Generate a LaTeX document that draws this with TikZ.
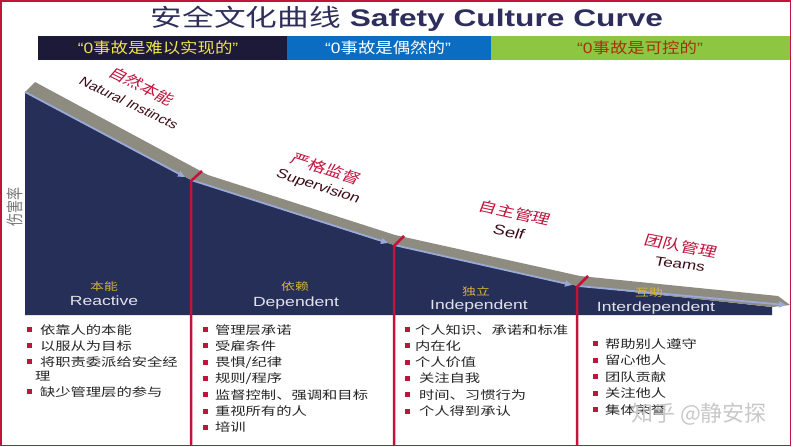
\documentclass[tikz,border=0pt]{standalone}
\usepackage{fontspec}
\setmainfont{Liberation Sans}
\newfontfamily\zh{Noto Sans CJK SC}
\newfontfamily\latin{Liberation Sans}
\usetikzlibrary{arrows.meta}
\definecolor{navy}{HTML}{252F58}
\definecolor{bandc}{HTML}{8E8C80}
\definecolor{edgec}{HTML}{9AAAD8}
\definecolor{crim}{HTML}{C0143C}
\definecolor{titlec}{HTML}{2E2E5C}
\definecolor{barA}{HTML}{1C1A38}
\definecolor{barB}{HTML}{0A6DC2}
\definecolor{barC}{HTML}{8DC641}
\definecolor{ylw}{HTML}{EEE44A}
\definecolor{rust}{HTML}{A8300F}
\definecolor{gold}{HTML}{D6B23A}
\definecolor{darklab}{HTML}{3C0D18}
\definecolor{lightlab}{HTML}{E2E2EA}
\definecolor{itemc}{HTML}{262626}
\definecolor{axisc}{HTML}{777777}
\definecolor{wmc}{HTML}{C8C8C8}
\tikzset{
  every node/.style={inner sep=0pt, outer sep=0pt},
  stretch/.style={xscale=1.32},
  ttl/.style={stretch, text=titlec, font=\fontsize{24}{28}\selectfont},
  bann/.style={xscale=1.16, font=\fontsize{15}{18}\selectfont\zh},
  rlab/.style={stretch, text=crim, font=\fontsize{14}{16}\selectfont\zh},
  elab/.style={stretch, text=darklab, font=\fontsize{13}{16}\selectfont},
  phz/.style={stretch, text=gold, font=\fontsize{10.5}{12}\selectfont\zh},
  phe/.style={stretch, text=lightlab, font=\fontsize{13.3}{16}\selectfont, anchor=base},
  item/.style={stretch, text=itemc, font=\fontsize{11.6}{14}\selectfont\zh, anchor=base west},
  bul/.style={fill=crim, minimum width=5pt, minimum height=5pt},
  divider/.style={draw=crim, line width=2.5pt},
  edgeline/.style={draw=edgec, line width=1.8pt, -{Triangle[length=7pt,width=6pt]}},
}
\begin{document}
\begin{tikzpicture}[x=1pt, y=-1pt]
\useasboundingbox (0,0) rectangle (793,447);
\fill[white] (0,0) rectangle (793,447);

% title
\node[ttl, anchor=base] (title) at (407,27) {{\zh 安全文化曲线} \textbf{Safety Culture Curve}};

% banner
\fill[barA] (38,36) rectangle (287,60);
\fill[barB] (287,36) rectangle (491,60);
\fill[barC] (491,36) rectangle (790,60);
\node[bann, text=ylw] (q1) at (158,48) {{\latin “0}事故是难以实现的{\latin ”}};
\node[bann, text=white] (q2) at (388,48) {{\latin “0}事故是偶然的{\latin ”}};
\node[bann, text=rust] (q3) at (640,48) {{\latin “0}事故是可控的{\latin ”}};

% curve geometry
\coordinate (P0) at (25,92);
\coordinate (P1) at (191,180);
\coordinate (P2) at (394,245);
\coordinate (P3) at (578,286);
\coordinate (P4) at (772,307);
\coordinate (U0) at (35,82);
\coordinate (U1) at (208,175);
\coordinate (U2) at (395,235);
\coordinate (U3) at (580,276);
\coordinate (U4) at (778,296);
\coordinate (T) at (790,305);

\fill[navy] (P0) -- (P1) -- (P2) -- (P3) -- (P4) -- (772,315) -- (25,315) -- cycle;
\fill[bandc] (P0) -- (U0) -- (U1) -- (U2) -- (U3) -- (U4) -- (T) -- (P4) -- (P3) -- (P2) -- (P1) -- cycle;
\draw[edgeline] (P0) -- (185,177);
\draw[edgeline] (P1) -- (388,243);
\draw[edgeline] (P2) -- (572,285);
\draw[edgeline] (P3) -- (786,305);

% dividers and frame
\draw[divider] (202,171) -- (191,181) -- (191,445);
\draw[divider] (404,236) -- (394,246) -- (394,445);
\draw[divider] (588,276) -- (577,287) -- (577,445);
\draw[crim, line width=1.5pt] (1,1) rectangle (790.5,445.5);

% axis label
\node[stretch, rotate=90, text=axisc, font=\fontsize{13}{15}\selectfont\zh] (axis) at (15,207) {伤害率};

% stage labels on curve
\node[rlab, rotate=-33] (s1z) at (142,86) {自然本能};
\node[elab, rotate=-32, font=\fontsize{12}{14}\selectfont] (s1e) at (129,103) {Natural Instincts};
\node[rlab, rotate=-23] (s2z) at (326,169) {严格监督};
\node[elab, rotate=-23] (s2e) at (318,187) {Supervision};
\node[rlab, rotate=-16] (s3z) at (515,213) {自主管理};
\node[elab, rotate=-15, font=\fontsize{14}{16}\selectfont] (s3e) at (509,232) {Self};
\node[rlab, rotate=-14] (s4z) at (681,246) {团队管理};
\node[elab, rotate=-10] (s4e) at (680,264) {Teams};

% phase labels
\node[phz] (p1z) at (104,286) {本能};
\node[phe] (p1e) at (104,305) {Reactive};
\node[phz] (p2z) at (295,287) {依赖};
\node[phe] (p2e) at (296,306) {Dependent};
\node[phz] (p3z) at (476,291) {独立};
\node[phe] (p3e) at (479,309) {Independent};
\node[phz] (p4z) at (649,293) {互助};
\node[phe] (p4e) at (656,311) {Interdependent};

% column 1
\foreach \t/\y [count=\i] in {依靠人的本能/334, 以服从为目标/350, 将职责委派给安全经/366, 缺少管理层的参与/396} {
  \node[item] (a\i) at (40,\y) {\t};
  \node[bul] (ab\i) at (29.5,\y-4.5) {};
}
\node[item] (a5) at (35,380) {理};

% column 2
\foreach \t [count=\i] in {管理层承诺, 受雇条件, 畏惧/纪律, 规则/程序, 监督控制、强调和目标, 重视所有的人, 培训} {
  \node[item] (b\i) at (215,334+16.3*\i-16.3) {\t};
  \node[bul] (bb\i) at (205.5,329.5+16.3*\i-16.3) {};
}

% column 3
\foreach \t/\x [count=\i] in {个人知识、承诺和标准/415, 内在化/415, 个人价值/415, 关注自我/419, 时间、习惯行为/419, 个人得到承认/419} {
  \node[item] (c\i) at (\x,334+16.3*\i-16.3) {\t};
  \node[bul] (cb\i) at (407.5,329.5+16.3*\i-16.3) {};
}

% column 4
\foreach \t [count=\i] in {帮助别人遵守, 留心他人, 团队贡献, 关注他人, 集体荣誉} {
  \node[item] (d\i) at (605,348+16.5*\i-16.5) {\t};
  \node[bul] (db\i) at (595.5,343.5+16.5*\i-16.5) {};
}

% watermark
\node[text=wmc, font=\fontsize{22}{26}\selectfont\zh] (wm) at (699,414) {知乎 @静安探};
\end{tikzpicture}
\end{document}
